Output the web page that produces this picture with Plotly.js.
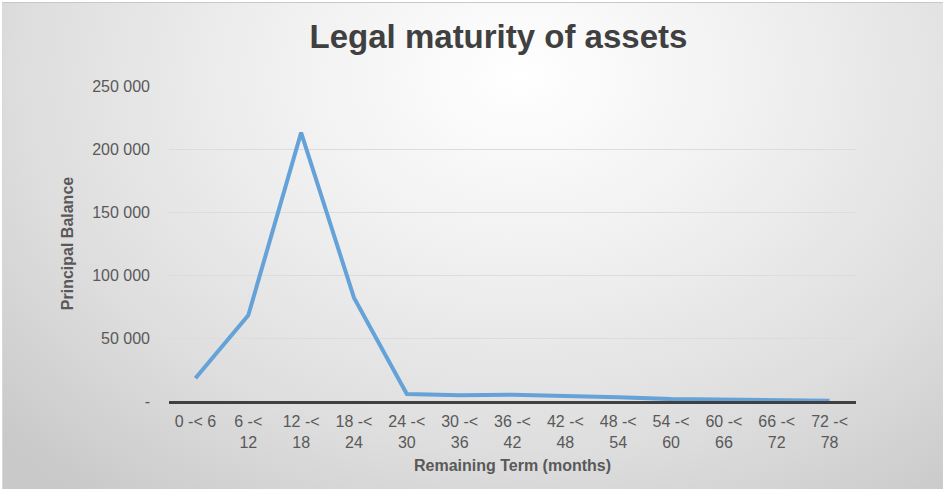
<!DOCTYPE html>
<html>
<head>
<meta charset="utf-8">
<script src="https://cdn.plot.ly/plotly-3.0.1.min.js"></script>
<style>
  html, body { margin: 0; padding: 0; width: 944px; height: 490px; overflow: hidden; background: #ffffff; }
  #frame { position: absolute; left: 2px; top: 2px; width: 940px; height: 486px;
    border-top: 1px solid #c8c8c8; border-left: 1px solid #d8d8d8;
    background: radial-gradient(ellipse 75% 110% at 55% 15%, #ffffff 0%, #f0f0f0 35%, #dedede 70%, #c9c9c9 100%); }
  #chart { position: absolute; left: -2px; top: -2px; width: 944px; height: 490px; }
</style>
</head>
<body>
<div id="frame"><div id="chart"></div></div>
<script>
const categories = ["0 -< 6", "6 -<<br>12", "12 -<<br>18", "18 -<<br>24", "24 -<<br>30", "30 -<<br>36",
  "36 -<<br>42", "42 -<<br>48", "48 -<<br>54", "54 -<<br>60", "60 -<<br>66", "66 -<<br>72", "72 -<<br>78"];
const principalBalance = [18000, 68000, 213000, 82000, 5500, 4500, 5000, 4200, 3000, 1500, 1200, 600, 200];
const yTickVals = [0, 50000, 100000, 150000, 200000, 250000];
const yTickText = ["-", "50 000", "100 000", "150 000", "200 000", "250 000"];

const trace = {
  x: categories,
  y: principalBalance,
  type: 'scatter',
  mode: 'lines',
  line: { color: '#64A2D8', width: 4 },
  hoverinfo: 'x+y'
};

const layout = {
  width: 944, height: 490,
  paper_bgcolor: 'rgba(0,0,0,0)',
  plot_bgcolor: 'rgba(0,0,0,0)',
  margin: { l: 168, r: 89, t: 85, b: 90 },
  showlegend: false,
  font: { family: 'Liberation Sans, Arial, sans-serif', color: '#595959', size: 16 },
  title: {
    text: '<b>Legal maturity of assets</b>',
    font: { family: 'Liberation Sans, Arial, sans-serif', size: 33, color: '#404040' },
    x: 0.527, xanchor: 'center', y: 0.927, yanchor: 'middle'
  },
  xaxis: {
    type: 'category',
    showgrid: false,
    zeroline: false,
    showline: true,
    linecolor: '#404040',
    linewidth: 3,
    ticks: '',
    tickfont: { size: 16, color: '#595959' },
    ticklabelstandoff: 4,
    title: { text: '<b>Remaining Term (months)</b>', font: { size: 16, color: '#595959' }, standoff: 10 },
    range: [-0.5, 12.5],
    fixedrange: true
  },
  yaxis: {
    range: [0, 250000],
    tickvals: yTickVals,
    ticktext: yTickText,
    showgrid: true,
    gridcolor: '#dcdcdc',
    gridwidth: 1,
    zeroline: false,
    showline: false,
    ticks: '',
    tickfont: { size: 16, color: '#595959' },
    ticklabelstandoff: 18,
    title: { text: '<b>Principal Balance</b>', font: { size: 16, color: '#595959' }, standoff: 14 },
    fixedrange: true
  }
};

Plotly.newPlot('chart', [trace], layout, { displayModeBar: false, staticPlot: true });
</script>
</body>
</html>
